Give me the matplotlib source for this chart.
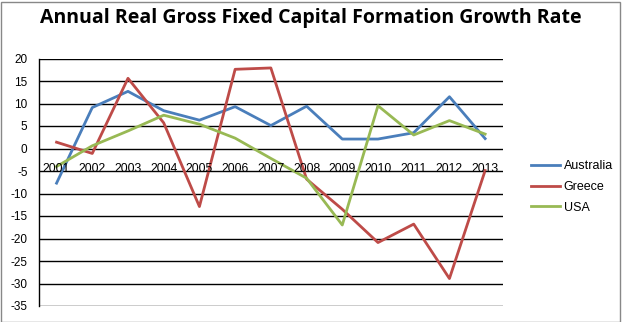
import matplotlib.pyplot as plt
from matplotlib.patches import Rectangle

years = ["2001", "2002", "2003", "2004", "2005", "2006", "2007",
         "2008", "2009", "2010", "2011", "2012", "2013"]
australia = [-7.7, 9.1, 12.7, 8.4, 6.3, 9.3, 5.1, 9.4, 2.1, 2.1, 3.5, 11.5, 2.2]
greece = [1.4, -1.1, 15.6, 5.7, -12.9, 17.6, 17.9, -6.8, -13.5, -20.9, -16.8, -28.9, -4.9]
usa = [-4.0, 0.6, 3.9, 7.4, 5.4, 2.3, -2.2, -6.6, -17.0, 9.5, 3.0, 6.2, 3.2]
yticks = list(range(-35, 25, 5))

plt.rcParams['font.family'] = ['Liberation Sans', 'DejaVu Sans']

fig = plt.figure(figsize=(6.22, 3.22), dpi=100)
ax = fig.add_axes([38.7/622, 1 - 306/322, (503 - 38.7)/622, (306 - 58.5)/322])

x = list(range(len(years)))
ax.plot(x, australia, color="#4A7EBB", lw=2.0, label="Australia")
ax.plot(x, greece, color="#BE4B48", lw=2.0, label="Greece")
ax.plot(x, usa, color="#98B954", lw=2.0, label="USA")

ax.set_xlim(-0.5, len(years) - 0.5)
ax.set_ylim(-35, 20)
ax.set_yticks(yticks)
ax.set_yticklabels([str(t) for t in yticks], fontsize=8.5)
ax.tick_params(axis='y', length=0, pad=8)
ax.set_xticks([])
for t in yticks:
    ax.axhline(t, color="black", lw=1.0, zorder=0)
for s in ["top", "right", "bottom"]:
    ax.spines[s].set_visible(False)
ax.spines["left"].set_linewidth(1.0)

# labels of the category axis sit just below zero
for i, yr in enumerate(years):
    ax.text(i, -4.6, yr, ha="center", va="center", fontsize=8.8)

fig.text(0.5, 1 - 18/322, "Annual Real Gross Fixed Capital Formation Growth Rate",
         ha="center", va="center", fontsize=14, fontweight="bold",
         family=["Open Sans", "DejaVu Sans"])

fig.legend(loc="upper left", bbox_to_anchor=(520/622, 1 - 149/322), frameon=False,
           fontsize=9, handlelength=2.3, handletextpad=0.3, labelspacing=0.7)

fig.patches.append(Rectangle((0.002, 0.0), 0.994, 0.995, transform=fig.transFigure,
                             fill=False, edgecolor="#888888", lw=1.0))

plt.savefig("out.png", dpi=100)
